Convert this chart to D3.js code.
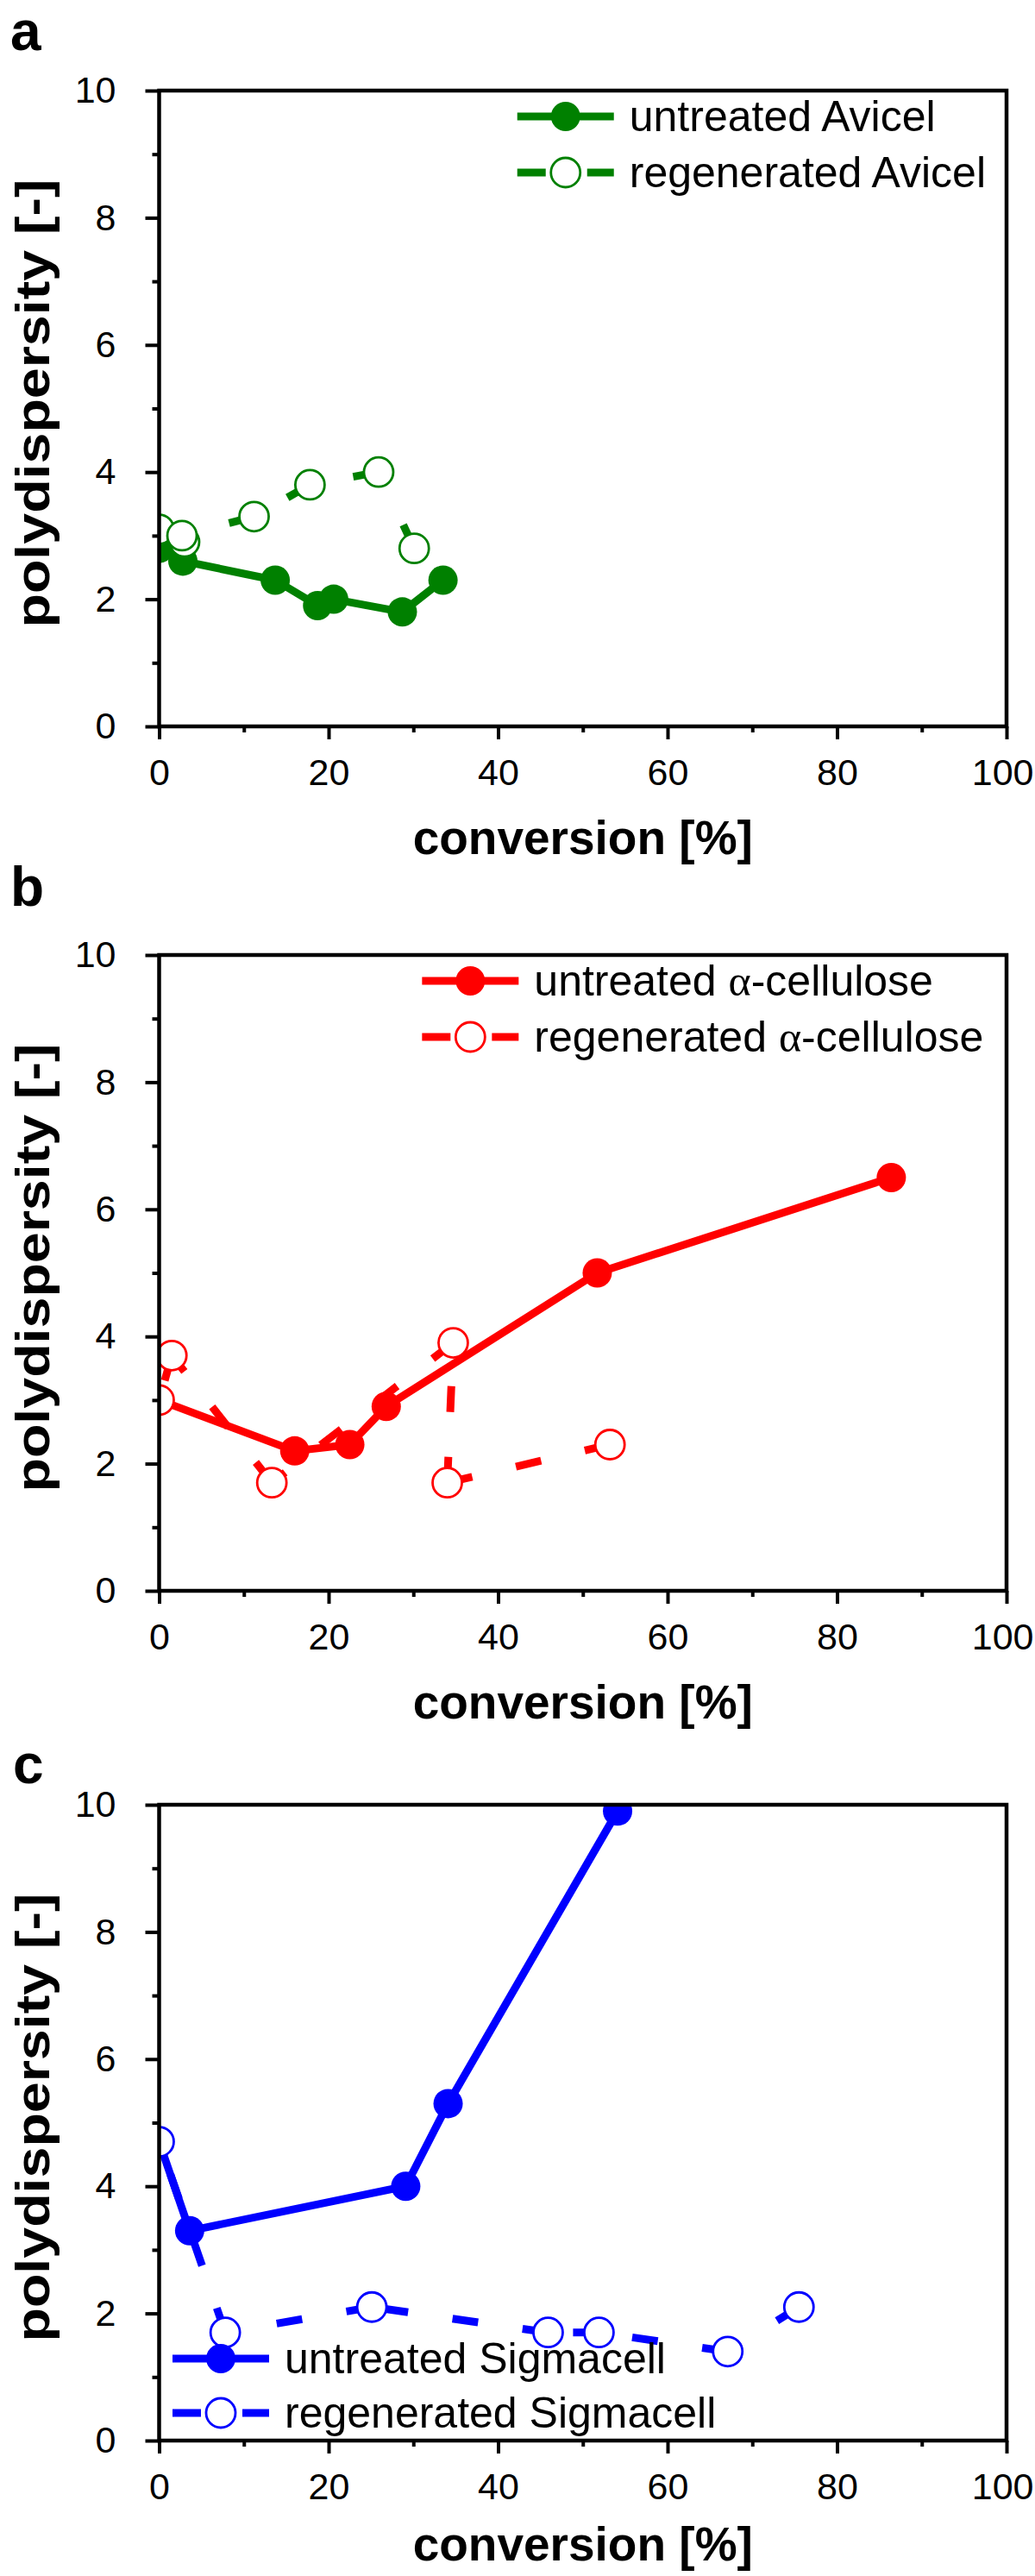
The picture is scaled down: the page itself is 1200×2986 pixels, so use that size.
<!DOCTYPE html>
<html><head><meta charset="utf-8">
<script src="https://cdn.jsdelivr.net/npm/d3@7"></script>
<style>body{margin:0;background:#fff}svg{display:block}</style>
</head><body>
<svg id="chart" width="1200" height="2986"></svg>
<script>
// ---- tick values ----
const xMajorTicks = [0, 20, 40, 60, 80, 100];
const xMinorTicks = [10, 30, 50, 70, 90];
const yMajorTicks = [0, 2, 4, 6, 8, 10];
const yMinorTicks = [1, 3, 5, 7, 9];

// ---- panel a: Avicel ----
const avicelUntreatedX = [0, 2.8, 13.7, 18.7, 20.6, 28.7, 33.5];
const avicelUntreatedY = [2.8, 2.6, 2.3, 1.9, 2.0, 1.8, 2.3];
const avicelRegenX = [0, 3.0, 2.7, 11.2, 17.8, 25.9, 30.1];
const avicelRegenY = [3.1, 2.9, 3.0, 3.3, 3.8, 4.0, 2.8];

// ---- panel b: alpha-cellulose ----
const alphaUntreatedX = [0, 16.0, 22.5, 26.8, 51.7, 86.4];
const alphaUntreatedY = [3.0, 2.2, 2.3, 2.9, 5.0, 6.5];
const alphaRegenX = [0, 1.5, 13.3, 34.7, 34.0, 53.2];
const alphaRegenY = [3.0, 3.7, 1.7, 3.9, 1.7, 2.3];

// ---- panel c: Sigmacell ----
const sigmaUntreatedX = [0, 3.6, 29.1, 34.1, 54.1];
const sigmaUntreatedY = [4.7, 3.3, 4.0, 5.3, 9.9];
const sigmaRegenX = [0, 7.8, 25.1, 45.9, 51.9, 67.1, 75.5];
const sigmaRegenY = [4.7, 1.7, 2.1, 1.7, 1.7, 1.4, 2.1];

const panelLetters = ['a', 'b', 'c'];
const seriesLabels = [
  ['untreated Avicel', 'regenerated Avicel'],
  ['untreated \u03b1-cellulose', 'regenerated \u03b1-cellulose'],
  ['untreated Sigmacell', 'regenerated Sigmacell']
];
const xTitle = 'conversion [%]';
const yTitle = 'polydispersity [-]';

const zip = (xs, ys) => xs.map((v, i) => [v, ys[i]]);

const panels = [
  {top: 105, color: '#008000', letterX: 12, letterY: 58, xTitleGap: 148,
   untreated: zip(avicelUntreatedX, avicelUntreatedY), regen: zip(avicelRegenX, avicelRegenY),
   legend: 'top'},
  {top: 1107, color: '#ff0000', letterX: 12, letterY: 1050, xTitleGap: 148,
   untreated: zip(alphaUntreatedX, alphaUntreatedY), regen: zip(alphaRegenX, alphaRegenY),
   legend: 'top'},
  {top: 2092, color: '#0000ff', letterX: 15, letterY: 2067, xTitleGap: 139,
   untreated: zip(sigmaUntreatedX, sigmaUntreatedY), regen: zip(sigmaRegenX, sigmaRegenY),
   legend: 'bottom'}
];

const FONT = '"Liberation Sans", Arial, Helvetica, sans-serif';
const PLOT_LEFT = 184.5, PLOT_RIGHT = 1167, PLOT_H = 737;
const svg = d3.select('#chart');

panels.forEach((p, pi) => {
  const x = d3.scaleLinear().domain([0, 100]).range([PLOT_LEFT, PLOT_RIGHT]);
  const y = d3.scaleLinear().domain([0, 10]).range([p.top + PLOT_H, p.top]);
  const g = svg.append('g');

  const clipId = 'clip' + pi;
  svg.append('clipPath').attr('id', clipId).append('rect')
    .attr('x', PLOT_LEFT).attr('y', p.top)
    .attr('width', PLOT_RIGHT - PLOT_LEFT).attr('height', PLOT_H);

  // panel letter
  g.append('text').attr('x', p.letterX).attr('y', p.letterY)
    .attr('font-family', FONT).attr('font-weight', 'bold').attr('font-size', 64)
    .text(panelLetters[pi]);

  // axes
  const bottom = p.top + PLOT_H;
  const xMajor = g.append('g').attr('transform', `translate(0,${bottom})`)
    .call(d3.axisBottom(x).tickValues(xMajorTicks).tickSize(15).tickPadding(22).tickFormat(d3.format('d')));
  const xMinor = g.append('g').attr('transform', `translate(0,${bottom})`)
    .call(d3.axisBottom(x).tickValues(xMinorTicks).tickSize(7).tickFormat(''));
  const yMajor = g.append('g').attr('transform', `translate(${PLOT_LEFT},0)`)
    .call(d3.axisLeft(y).tickValues(yMajorTicks).tickSize(16).tickPadding(34).tickFormat(d3.format('d')));
  const yMinor = g.append('g').attr('transform', `translate(${PLOT_LEFT},0)`)
    .call(d3.axisLeft(y).tickValues(yMinorTicks).tickSize(8).tickFormat(''));
  [xMajor, xMinor, yMajor, yMinor].forEach(a => {
    a.select('.domain').remove();
    a.selectAll('line').attr('stroke', '#000').attr('stroke-width', 4);
    a.selectAll('text').attr('font-family', FONT).attr('font-size', 43).attr('fill', '#000');
  });
  // keep the last x label inside the page
  xMajor.selectAll('.tick text').filter(d => d === 100)
    .attr('text-anchor', 'end').attr('x', 1198 - PLOT_RIGHT);

  // data layer (clipped)
  const data = g.append('g').attr('clip-path', `url(#${clipId})`);
  const line = d3.line().x(d => x(d[0])).y(d => y(d[1]));

  // untreated: solid line + filled circles
  data.append('path').datum(p.untreated).attr('d', line)
    .attr('fill', 'none').attr('stroke', p.color).attr('stroke-width', 9)
    .attr('stroke-linejoin', 'round');
  data.selectAll('.uf').data(p.untreated).join('circle')
    .attr('cx', d => x(d[0])).attr('cy', d => y(d[1])).attr('r', 17)
    .attr('fill', p.color);

  // regenerated: dashed segments (pattern anchored at each end point) + open circles
  const segs = d3.pairs(p.regen);
  data.selectAll('.seg').data(segs).join('line')
    .attr('x1', d => x(d[1][0])).attr('y1', d => y(d[1][1]))
    .attr('x2', d => x(d[0][0])).attr('y2', d => y(d[0][1]))
    .attr('stroke', p.color).attr('stroke-width', 9)
    .attr('stroke-dasharray', '30,52');
  data.selectAll('.ro').data(p.regen).join('circle')
    .attr('cx', d => x(d[0])).attr('cy', d => y(d[1])).attr('r', 17)
    .attr('fill', '#fff').attr('stroke', p.color).attr('stroke-width', 2.8);

  // frame
  g.append('rect').attr('x', PLOT_LEFT).attr('y', p.top)
    .attr('width', PLOT_RIGHT - PLOT_LEFT).attr('height', PLOT_H)
    .attr('fill', 'none').attr('stroke', '#000').attr('stroke-width', 4.5);

  // axis titles
  g.append('text').attr('x', (PLOT_LEFT + PLOT_RIGHT) / 2).attr('y', bottom + p.xTitleGap)
    .attr('text-anchor', 'middle').attr('font-family', FONT).attr('font-weight', 'bold')
    .attr('font-size', 55).text(xTitle);
  g.append('text')
    .attr('transform', `translate(57,${p.top + PLOT_H / 2 - 6}) rotate(-90)`)
    .attr('text-anchor', 'middle').attr('font-family', FONT).attr('font-weight', 'bold')
    .attr('font-size', 56).attr('textLength', 520).attr('lengthAdjust', 'spacingAndGlyphs')
    .text(yTitle);

  // legend
  const fs = 50;
  let textX, rows;
  if (p.legend === 'top') {
    const longest = seriesLabels[pi][1];
    const tmp = g.append('text').attr('font-family', FONT).attr('font-size', fs).text(longest);
    const w = tmp.node().getComputedTextLength();
    tmp.remove();
    textX = 1143 - w;
    rows = [p.top + 30, p.top + 95];
  } else {
    textX = 330;
    rows = [bottom - 95, bottom - 32];
  }
  const lx0 = textX - 130, lx1 = textX - 18, mx = textX - 74;
  g.append('line').attr('x1', lx0).attr('x2', lx1).attr('y1', rows[0]).attr('y2', rows[0])
    .attr('stroke', p.color).attr('stroke-width', 9);
  g.append('circle').attr('cx', mx).attr('cy', rows[0]).attr('r', 17).attr('fill', p.color);
  [[lx0, mx - 23], [mx + 25, lx1]].forEach(s => {
    g.append('line').attr('x1', s[0]).attr('x2', s[1]).attr('y1', rows[1]).attr('y2', rows[1])
      .attr('stroke', p.color).attr('stroke-width', 9);
  });
  g.append('circle').attr('cx', mx).attr('cy', rows[1]).attr('r', 17)
    .attr('fill', '#fff').attr('stroke', p.color).attr('stroke-width', 2.8);

  seriesLabels[pi].forEach((lab, i) => {
    const t = g.append('text').attr('x', textX).attr('y', rows[i] + 17)
      .attr('font-family', FONT).attr('font-size', fs).attr('fill', '#000');
    const parts = lab.split('\u03b1');
    if (parts.length === 2) {
      t.append('tspan').text(parts[0]);
      t.append('tspan').attr('font-family', '"Liberation Serif", "DejaVu Serif", serif').text('\u03b1');
      t.append('tspan').text(parts[1]);
    } else {
      t.text(lab);
    }
  });
});
</script>
</body></html>
